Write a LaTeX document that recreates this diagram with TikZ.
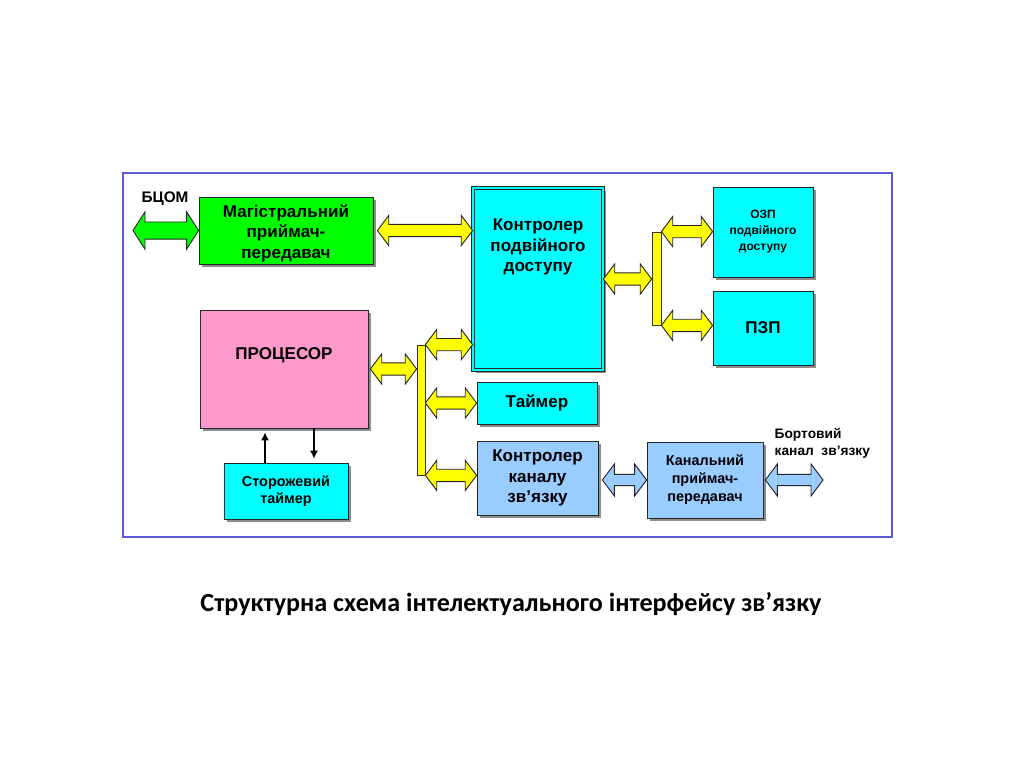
\documentclass[tikz,border=0pt]{standalone}
\usepackage{fontspec}
\setmainfont{Liberation Sans}
\newfontfamily\captionfont{Carlito}
\usepackage{xcolor}
\usetikzlibrary{calc, shadows, arrows.meta}

\definecolor{busyellow}{HTML}{FFFF00}
\definecolor{blockgreen}{HTML}{00FF00}
\definecolor{blockcyan}{HTML}{00FFFF}
\definecolor{blockpink}{HTML}{FF99CC}
\definecolor{blockblue}{HTML}{99CCFF}
\definecolor{framecolor}{HTML}{5B5BD9}

\begin{document}
\begin{tikzpicture}[x=0.75pt, y=-0.75pt,
    block/.style={rectangle, draw=black!85, line width=0.6pt, align=center, inner sep=2pt,
        drop shadow={shadow xshift=2.2pt, shadow yshift=-2.2pt, fill=black!45, opacity=1}},
    busbar/.style={rectangle, fill=busyellow, draw=black!80, line width=0.6pt, inner sep=0pt},
    bus/.style n args={4}{fill=#1, draw=black!85, line width=0.7pt, to path={
        let \p1=(\tikztostart), \p2=(\tikztotarget) in
        (\x1,\y1) -- (\x1+#2,\y1+#3) -- (\x1+#2,\y1+#4) -- (\x2-#2,\y1+#4) -- (\x2-#2,\y1+#3)
        -- (\x2,\y1) -- (\x2-#2,\y1-#3) -- (\x2-#2,\y1-#4) -- (\x1+#2,\y1-#4) -- (\x1+#2,\y1-#3) -- cycle}},
    ybus/.style={bus={busyellow}{8.5pt}{11.3pt}{4.6pt}},
    gbus/.style={bus={blockgreen}{9pt}{14pt}{6.4pt}},
    bbus/.style={bus={blockblue}{9pt}{12pt}{4.2pt}},
    bigtext/.style={font=\bfseries\fontsize{12.8}{15.5}\selectfont},
    wire/.style={-{Latex[length=6pt, width=6pt]}, line width=0.9pt},
    ]

        \useasboundingbox (0,0) rectangle (1024,767);
        \fill[white] (0,0) rectangle (1024,767);

        %% Frame
        \draw[framecolor, line width=1.1pt] (123,173) rectangle (892,537);

        %% Blocks
        \node (mag) [block, fill=blockgreen, minimum width=130.5pt, minimum height=50.25pt,
            label={[bigtext, align=center, yshift=-2pt]center:{Магістральний\\приймач-\\передавач}}] at (286,230.5) {};
        \node (ctrl) [block, fill=blockcyan, double=blockcyan, double distance=1.5pt, minimum width=97.5pt, minimum height=136.5pt,
            label={[bigtext, align=center, yshift=24pt]center:{Контролер\\подвійного\\доступу}}] at (538,279) {};
        \node (ozp) [block, fill=blockcyan, font=\bfseries\fontsize{9}{12}\selectfont, minimum width=75pt, minimum height=67.5pt] at (763,232) {ОЗП\\подвійного\\доступу};
        \node (pzp) [block, bigtext, fill=blockcyan, minimum width=75pt, minimum height=55.5pt] at (763,328) {ПЗП};
        \node (proc) [block, fill=blockpink, minimum width=126pt, minimum height=88.5pt,
            label={[bigtext, yshift=10.5pt]center:ПРОЦЕСОР}] at (284,369) {};
        \node (timer) [block, bigtext, fill=blockcyan, minimum width=90pt, minimum height=31.5pt] at (537,403) {Таймер};
        \node (chctrl) [block, bigtext, fill=blockblue, minimum width=90.75pt, minimum height=55.5pt] at (537.5,478) {Контролер\\каналу\\зв’язку};
        \node (wdt) [block, fill=blockcyan, font=\bfseries\fontsize{10.8}{12.75}\selectfont, minimum width=93pt, minimum height=42pt] at (286,491) {Сторожевий\\таймер};
        \node (chtx) [block, fill=blockblue, font=\bfseries\fontsize{10.8}{13.5}\selectfont, minimum width=87pt, minimum height=57pt] at (705,480) {Канальний\\приймач-\\передавач};

        %% Bus bars
        \node (bus1) [busbar, minimum width=6pt, minimum height=97.5pt] at (421,410) {};
        \node (bus2) [busbar, minimum width=6.75pt, minimum height=69.75pt] at (656.5,278.5) {};

        %% Outside labels
        \node (bcom) [font=\bfseries\fontsize{11.5}{14}\selectfont] at (165,199) {БЦОМ};
        \node (board) [anchor=west, align=left, font=\bfseries\fontsize{10.3}{12.75}\selectfont] at (770,443) {Бортовий\\канал~ зв’язку};
        \coordinate (bcomend) at (133,230.5);
        \coordinate (boardend) at (823,480);

        %% Bus arrows
        \draw[gbus] (bcomend) to (mag.west);
        \draw[ybus] ([xshift=3pt]mag.east) to (ctrl.west |- mag.east);
        \draw[ybus] (ctrl.east) to (bus2.west |- ctrl.east);
        \draw[ybus] (bus2.north east) to (ozp.west |- bus2.north east);
        \draw[ybus] (bus2.south east) to (pzp.west |- bus2.south east);
        \draw[ybus] ([xshift=1.5pt]proc.east) to (bus1.west |- proc.east);
        \draw[ybus] (bus1.north east) to (ctrl.west |- bus1.north east);
        \draw[ybus] (bus1.east |- timer.west) to (timer.west);
        \draw[ybus] (bus1.south east) to (chctrl.west |- bus1.south east);
        \draw[bbus] ([xshift=3pt]chctrl.east |- chtx.west) to (chtx.west);
        \draw[bbus] ([xshift=1.5pt]chtx.east) to (boardend);

        %% Watchdog links
        \draw[wire] ([xshift=-15.75pt]wdt.north) -- ([xshift=-15.75pt, yshift=-3pt]wdt.north |- proc.south);
        \draw[wire] ([xshift=21pt]wdt.north |- proc.south) -- ([xshift=21pt, yshift=3pt]wdt.north);

        %% Caption
        \node (caption) [font=\captionfont\bfseries\fontsize{19.6}{22}\selectfont] at (511,604) {Структурна схема інтелектуального інтерфейсу зв’язку};

    \end{tikzpicture}
\end{document}
